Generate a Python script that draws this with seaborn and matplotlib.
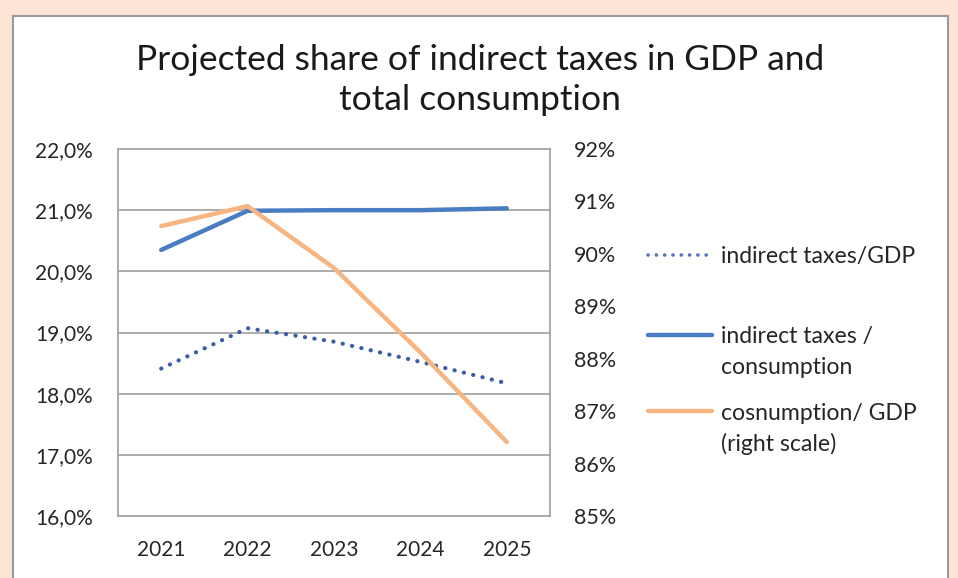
import matplotlib
matplotlib.use("Agg")
import matplotlib.pyplot as plt
from matplotlib.patches import Rectangle
from matplotlib.lines import Line2D
from matplotlib.ticker import FuncFormatter
import seaborn as sns
import pandas as pd

years = [2021, 2022, 2023, 2024, 2025]
taxes_gdp = [18.41, 19.07, 18.85, 18.52, 18.17]          # indirect taxes / GDP, %
taxes_consumption = [20.35, 20.99, 21.00, 21.00, 21.03]  # indirect taxes / consumption, %
consumption_gdp = [90.53, 90.91, 89.73, 88.12, 86.41]    # consumption / GDP, % (right scale)

left_ticks = [16, 17, 18, 19, 20, 21, 22]
right_ticks = [85, 86, 87, 88, 89, 90, 91, 92]

title_lines = ["Projected share of indirect taxes in GDP and", "total consumption"]
labels = [["indirect taxes/GDP"],
          ["indirect taxes /", "consumption"],
          ["cosnumption/ GDP", "(right scale)"]]

BLUE = "#4A7CC2"
DOT_BLUE = "#3B5DA8"
ORANGE = "#F6B581"
PEACH = "#FCE4D6"
GRID = "#A6A6A6"
TEXT = "#262626"
FONT = ["Lato", "DejaVu Sans"]
DOTS = (0, (0.05, 2.25))

sns.set_style("white")
plt.rcParams["font.family"] = FONT

W, H = 958, 578
fig = plt.figure(figsize=(W / 100, H / 100), dpi=100)
fig.patch.set_facecolor(PEACH)

# white chart box with grey frame
fig.patches.append(Rectangle((13 / W, -0.05), (948 - 13) / W, (H - 16) / H + 0.05,
                             transform=fig.transFigure, facecolor="white",
                             edgecolor="#9A9A9A", linewidth=1.5, zorder=-5))

ax = fig.add_axes([118 / W, (H - 516) / H, (550 - 118) / W, (516 - 149) / H])
ax.set_facecolor("none")
ax2 = ax.twinx()

df = pd.DataFrame({"year": years, "taxes_gdp": taxes_gdp,
                   "taxes_consumption": taxes_consumption,
                   "consumption_gdp": consumption_gdp})

sns.lineplot(data=df, x="year", y="taxes_gdp", ax=ax, color=DOT_BLUE,
             linewidth=3.0, zorder=3)
ax.lines[-1].set_linestyle(DOTS)
ax.lines[-1].set_dash_capstyle("round")
sns.lineplot(data=df, x="year", y="taxes_consumption", ax=ax, color=BLUE,
             linewidth=3.2, zorder=4)
ax.lines[-1].set_solid_capstyle("round")

ax.set_xlim(2020.5, 2025.5)
ax.set_ylim(16, 22)
ax.set_yticks(left_ticks)
ax.yaxis.set_major_formatter(FuncFormatter(lambda v, p: f"{v:.1f}%".replace(".", ",")))
ax.set_xticks(years)
ax.set_xticklabels([str(y) for y in years])
ax.grid(axis="y", color=GRID, linewidth=1.3)
ax.grid(axis="x", visible=False)
ax.set_xlabel("")
ax.set_ylabel("")
ax.tick_params(axis="y", length=0, pad=18, labelsize=15, labelcolor=TEXT)
ax.tick_params(axis="x", length=0, pad=17, labelsize=15, labelcolor=TEXT)
for s in ax.spines.values():
    s.set_color(GRID)
    s.set_linewidth(1.3)

sns.lineplot(data=df, x="year", y="consumption_gdp", ax=ax2, color=ORANGE,
             linewidth=3.2, zorder=5)
ax2.lines[-1].set_solid_capstyle("round")
ax2.set_ylim(85, 92)
ax2.set_yticks(right_ticks)
ax2.yaxis.set_major_formatter(FuncFormatter(lambda v, p: f"{v:.0f}%"))
ax2.tick_params(axis="y", length=0, pad=17, labelsize=15.5, labelcolor=TEXT)
ax2.set_ylabel("")
ax2.grid(False)
for s in ax2.spines.values():
    s.set_visible(False)

for txt, yy in zip(title_lines, [60, 100]):
    fig.text(480 / W, 1 - yy / H, txt, ha="center", va="center", fontsize=25.5,
             color="#1A1A1A")

# legend
styles = [dict(color="#5677BD", linewidth=2.6, linestyle=DOTS,
               dash_capstyle="round"),
          dict(color=BLUE, linewidth=3.2, solid_capstyle="round"),
          dict(color=ORANGE, linewidth=3.2, solid_capstyle="round")]
rows = [255, 335, 411]
for lab, st, yy in zip(labels, styles, rows):
    fig.add_artist(Line2D([648 / W, 712 / W], [1 - yy / H, 1 - yy / H],
                          transform=fig.transFigure, **st))
    for i, line in enumerate(lab):
        fig.text(721 / W, 1 - (yy + 30.5 * i) / H, line, ha="left", va="center_baseline",
                 fontsize=16.6, color=TEXT)

fig.savefig("out.png", dpi=100, facecolor=fig.get_facecolor())
